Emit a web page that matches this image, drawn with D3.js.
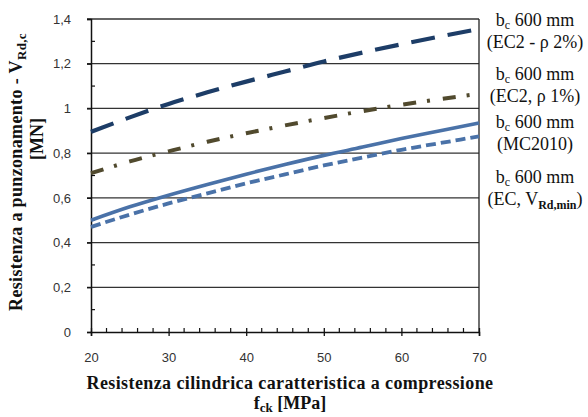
<!DOCTYPE html>
<html>
<head>
<meta charset="utf-8">
<script src="https://cdn.jsdelivr.net/npm/d3@7"></script>
<style>
  html, body { margin: 0; padding: 0; background: #fff; }
  svg { display: block; }
</style>
</head>
<body>
<svg id="chart" width="588" height="417"></svg>
<script>
// Concrete strength fck [MPa]
const fck = [20, 25, 30, 35, 40, 45, 50, 55, 60, 65, 70];

// Punching shear resistance VRd,c [MN], column side bc = 600 mm
const ec2Rho2 = [0.895, 0.96, 1.02, 1.072, 1.12, 1.165, 1.21, 1.25, 1.287, 1.322, 1.355];
const ec2Rho1 = [0.71, 0.763, 0.808, 0.851, 0.889, 0.924, 0.957, 0.988, 1.016, 1.042, 1.065];
const mc2010  = [0.50, 0.56, 0.612, 0.66, 0.706, 0.749, 0.79, 0.827, 0.865, 0.90, 0.935];
const ecVmin  = [0.47, 0.525, 0.575, 0.62, 0.665, 0.705, 0.745, 0.78, 0.815, 0.845, 0.875];

const xTicks = [20, 30, 40, 50, 60, 70];
const yTicks = [0, 0.2, 0.4, 0.6, 0.8, 1, 1.2, 1.4];

const SERIF = '"Liberation Serif", "Times New Roman", "DejaVu Serif", serif';
const SANS = '"Liberation Sans", Arial, sans-serif';

const svg = d3.select("#chart");
const m = { left: 91, right: 479, top: 19, bottom: 332 };

const x = d3.scaleLinear().domain([20, 70]).range([m.left, m.right]);
const y = d3.scaleLinear().domain([0, 1.4]).range([m.bottom, m.top]);

const fmt = v => String(v).replace(".", ",");

// horizontal gridlines
svg.append("g").selectAll("line").data(yTicks.slice(1)).join("line")
  .attr("x1", m.left - 4).attr("x2", m.right)
  .attr("y1", d => y(d)).attr("y2", d => y(d))
  .attr("stroke", "#333").attr("stroke-width", 1.3);

// right border
svg.append("line")
  .attr("x1", m.right).attr("x2", m.right)
  .attr("y1", m.top).attr("y2", m.bottom)
  .attr("stroke", "#222").attr("stroke-width", 1.3);

// y axis: major ticks outside, minor ticks inside
const yAxis = svg.append("g").attr("transform", `translate(${m.left},0)`)
  .call(d3.axisLeft(y).tickValues(yTicks).tickSize(4).tickPadding(16).tickFormat(fmt));
yAxis.select(".domain").attr("stroke", "#111").attr("stroke-width", 1.5);
yAxis.selectAll(".tick line").attr("stroke", "#111").attr("stroke-width", 1.3);
yAxis.selectAll("text").style("font-family", SANS).attr("font-size", 13).attr("fill", "#333");
svg.append("g").selectAll("line").data(d3.range(0.1, 1.4, 0.2)).join("line")
  .attr("x1", m.left).attr("x2", m.left + 4)
  .attr("y1", d => y(d)).attr("y2", d => y(d))
  .attr("stroke", "#111").attr("stroke-width", 1.2);

// x axis: major ticks crossing, minor ticks inside
const xAxis = svg.append("g").attr("transform", `translate(0,${m.bottom})`)
  .call(d3.axisBottom(x).tickValues(xTicks).tickSize(4).tickPadding(17));
xAxis.select(".domain").attr("stroke", "#111").attr("stroke-width", 1.5);
xAxis.selectAll(".tick line").attr("stroke", "#111").attr("stroke-width", 1.3).attr("y1", -4);
xAxis.selectAll("text").style("font-family", SANS).attr("font-size", 13).attr("fill", "#333");
svg.append("g").selectAll("line").data(d3.range(22, 70, 2).filter(v => v % 10 !== 0)).join("line")
  .attr("x1", d => x(d)).attr("x2", d => x(d))
  .attr("y1", m.bottom).attr("y2", m.bottom - 4)
  .attr("stroke", "#111").attr("stroke-width", 1.2);

// series
const line = d3.line().x((d, i) => x(fck[i])).y(d => y(d)).curve(d3.curveMonotoneX);
const series = [
  { values: ec2Rho2, color: "#1d3d67", width: 4.2, dash: "24,13" },
  { values: ec2Rho1, color: "#514a2e", width: 4,   dash: "13,11,3,13" },
  { values: mc2010,  color: "#4a72a8", width: 3.6, dash: null },
  { values: ecVmin,  color: "#4a72a8", width: 3.8, dash: "10,5" }
];
svg.append("g").selectAll("path").data(series).join("path")
  .attr("d", d => line(d.values))
  .attr("fill", "none")
  .attr("stroke", d => d.color)
  .attr("stroke-width", d => d.width)
  .attr("stroke-dasharray", d => d.dash);

// y axis title
const yt = svg.append("text")
  .attr("transform", "translate(22,172) rotate(-90)")
  .attr("text-anchor", "middle").attr("font-weight", "bold").attr("font-size", 18).attr("fill", "#111")
  .attr("letter-spacing", 0.35)
  .style("font-family", SERIF);
yt.append("tspan").text("Resistenza a punzonamento - V");
yt.append("tspan").attr("dy", 4).attr("font-size", 13).text("Rd,c");
svg.append("text")
  .attr("transform", "translate(43,139) rotate(-90)")
  .attr("text-anchor", "middle").attr("font-weight", "bold").attr("font-size", 18).attr("fill", "#111")
  .style("font-family", SERIF)
  .text("[MN]");

// x axis title
svg.append("text")
  .attr("x", 290).attr("y", 389)
  .attr("text-anchor", "middle").attr("font-weight", "bold").attr("font-size", 18).attr("fill", "#111")
  .attr("letter-spacing", 0.4)
  .style("font-family", SERIF)
  .text("Resistenza cilindrica caratteristica a compressione");
const xt = svg.append("text")
  .attr("x", 290).attr("y", 409)
  .attr("text-anchor", "middle").attr("font-weight", "bold").attr("font-size", 18).attr("fill", "#111")
  .style("font-family", SERIF);
xt.append("tspan").text("f");
xt.append("tspan").attr("dy", 3).attr("font-size", 13).text("ck");
xt.append("tspan").attr("dy", -3).text(" [MPa]");

// series labels on the right
const labels = [
  { y: 26,  second: [["(EC2 - \u03c1 2%)", false]] },
  { y: 80,  second: [["(EC2, \u03c1 1%)", false]] },
  { y: 128, second: [["(MC2010)", false]] },
  { y: 183, second: [["(EC, V", false], ["Rd,min", true], [")", false]] }
];
const lg = svg.append("g").attr("fill", "#111").style("font-family", SERIF);
labels.forEach(l => {
  const t1 = lg.append("text").attr("x", 535).attr("y", l.y)
    .attr("text-anchor", "middle").attr("font-size", 18);
  t1.append("tspan").text("b");
  t1.append("tspan").attr("dy", 3).attr("font-size", 12).text("c");
  t1.append("tspan").attr("dy", -3).text(" 600 mm");
  const t2 = lg.append("text").attr("x", 535).attr("y", l.y + 22)
    .attr("text-anchor", "middle").attr("font-size", 18);
  l.second.forEach(([s, sub], i) => {
    const ts = t2.append("tspan").text(s);
    if (sub) ts.attr("dy", 4).attr("font-size", 12).attr("font-weight", "bold");
    else if (i > 0) ts.attr("dy", -4);
  });
});
</script>
</body>
</html>
